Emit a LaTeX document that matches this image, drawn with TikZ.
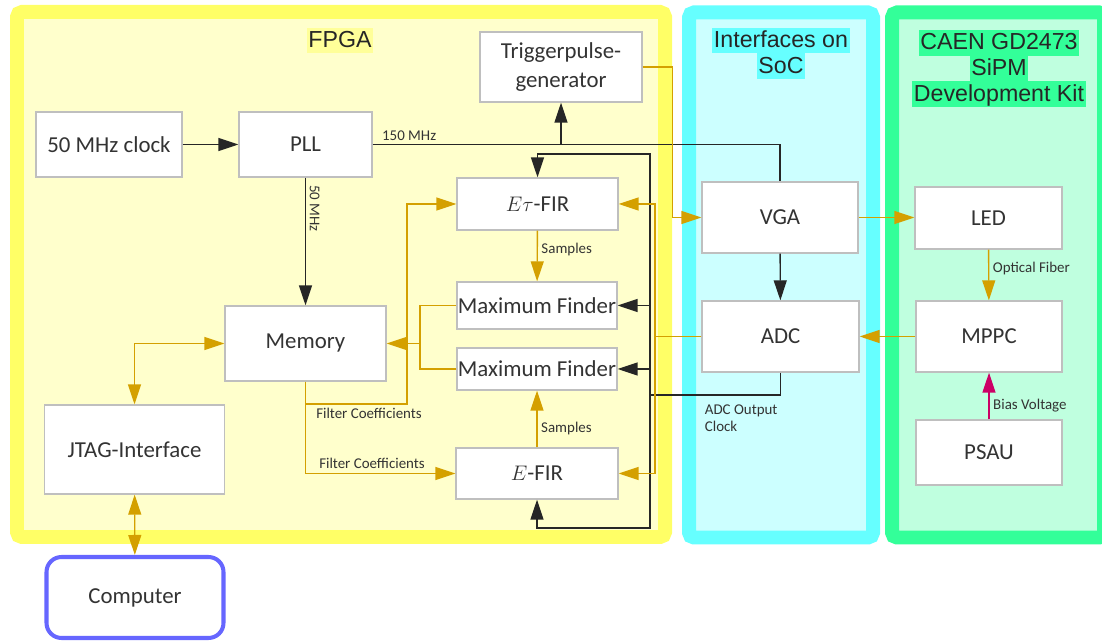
\documentclass[tikz,border=0pt]{standalone}
\usepackage{fontspec}
\setmainfont{Carlito}
\newfontfamily\titlefont{Liberation Sans}
\usepackage{xcolor}
\usetikzlibrary{arrows.meta, positioning, calc}
\definecolor{FPGAYellow}{HTML}{FFFF66}
\definecolor{FPGAFill}{HTML}{FFFFCC}
\definecolor{FPGATitle}{HTML}{FFFF99}
\definecolor{SoCCyan}{HTML}{66FFFF}
\definecolor{SoCFill}{HTML}{CCFFFF}
\definecolor{KitGreen}{HTML}{33FF99}
\definecolor{KitFill}{HTML}{BFFFDF}
\definecolor{BlockGray}{HTML}{BFBFBF}
\definecolor{DataOrange}{HTML}{D4A000}
\definecolor{BiasPink}{HTML}{CC0066}
\definecolor{PCBlue}{HTML}{6666FF}
% highlighted title line
\newcommand{\hlbox}[2]{{\setlength{\fboxsep}{0pt}\colorbox{#1}{\rule[-3.4pt]{0pt}{14.7pt}\hspace{1pt}#2\hspace{1pt}}}}
\tikzset{
    % Region frames - thick coloured borders
    region/.style={
        draw=#1,
        line width=0.28cm,
        rounded corners=0.1cm
    },
    regiontitle/.style={
        font=\titlefont\fontsize{13.2}{14.7}\selectfont,
        inner sep=0pt,
        align=center,
        text=black!85
    },
    % Box styles
    block/.style={
        rectangle,
        draw=BlockGray,
        fill=white,
        line width=0.8pt,
        minimum width=3.2cm,
        minimum height=1.42cm,
        inner sep=0pt,
        align=center,
        text=black!80,
        font=\fontsize{13}{16}\selectfont
    },
    pcbox/.style={
        rectangle,
        rounded corners=0.3cm,
        draw=PCBlue,
        fill=white,
        line width=2.3pt,
        minimum width=3.54cm,
        minimum height=1.62cm,
        align=center,
        text=black!80,
        font=\fontsize{13}{16}\selectfont
    },
    siglabel/.style={
        font=\fontsize{8.5}{9.8}\selectfont,
        text=black!80,
        inner sep=2pt
    },
    % Connector styles
    clkline/.style={
        line width=0.8pt,
        draw=black!85
    },
    clkarrow/.style={
        clkline,
        -{Triangle[length=0.4cm, width=0.26cm]}
    },
    datline/.style={
        line width=0.8pt,
        draw=DataOrange
    },
    datarrow/.style={
        datline,
        -{Triangle[length=0.4cm, width=0.26cm]}
    },
    datboth/.style={
        datline,
        {Triangle[length=0.4cm, width=0.26cm]}-{Triangle[length=0.4cm, width=0.26cm]}
    },
    biasarrow/.style={
        line width=0.8pt,
        draw=BiasPink,
        -{Triangle[length=0.4cm, width=0.26cm]}
    }
}

\begin{document}
\begin{tikzpicture}[x=0.02cm, y=-0.02cm]
    \useasboundingbox (0,0) rectangle (1102,641);

    % regions
    \draw[region=FPGAYellow, fill=FPGAFill] (17,12) rectangle (665,537);
    \draw[region=SoCCyan, fill=SoCFill] (689,12.5) rectangle (873,537.5);
    \draw[region=KitGreen, fill=KitFill] (892,12.5) rectangle (1104,537.5);

    \node[regiontitle] (fpgatitle) at (340,40.5) {\hlbox{FPGATitle}{FPGA}};
    \node[regiontitle] (soctitle) at (781,53.5) {\hlbox{SoCCyan}{Interfaces on}\\\hlbox{SoCCyan}{SoC}};
    \node[regiontitle] (kittitle) at (999,68.5) {\hlbox{KitGreen}{CAEN GD2473}\\\hlbox{KitGreen}{SiPM}\\\hlbox{KitGreen}{Development Kit}};

    % FPGA blocks
    \node[block, minimum width=2.92cm, minimum height=1.30cm] (clk) at (109,144.5) {50 MHz clock};
    \node[block, minimum width=2.66cm, minimum height=1.30cm] (pll) at (305.5,144.5) {PLL};
    \node[block, minimum width=3.24cm, minimum height=1.40cm] (trig) at (561,67) {Triggerpulse-\\generator};
    \node[block, minimum width=3.22cm, minimum height=1.04cm] (etfir) at (537.5,204) {$E\tau$-FIR};
    \node[block, minimum height=0.94cm] (mf1) at (537,305.5) {Maximum Finder};
    \node[block, minimum height=0.84cm] (mf2) at (537,369) {Maximum Finder};
    \node[block, minimum width=3.24cm, minimum height=1.02cm] (efir) at (537,473.5) {$E$-FIR};
    \node[block, minimum width=3.22cm, minimum height=1.50cm] (mem) at (305.5,343.5) {Memory};
    \node[block, minimum width=3.60cm, minimum height=1.78cm] (jtag) at (134.5,449.5) {JTAG-Interface};
    \node[pcbox] (comp) at (135,597.5) {Computer};

    % SoC and kit blocks
    \node[block, minimum width=3.12cm] (vga) at (780,217.5) {VGA};
    \node[block, minimum width=3.14cm] (adc) at (780.5,336.5) {ADC};
    \node[block, minimum width=2.94cm, minimum height=1.24cm] (led) at (988.5,218) {LED};
    \node[block, minimum width=2.92cm] (mppc) at (989,336.5) {MPPC};
    \node[block, minimum width=2.92cm, minimum height=1.30cm] (psau) at (989,452.5) {PSAU};

    % clock paths
    \draw[clkarrow] (clk) -- (pll);
    \draw[clkarrow] (pll) -- node[siglabel, pos=0.24, rotate=-90, anchor=south] (mhz50) {50 MHz} (mem);
    \coordinate (tap150) at (trig.south |- pll.east);
    \draw[clkline] (pll.east) -| (vga.north);
    \node[siglabel, anchor=south west, inner sep=1pt] (mhz150) at (380,143) {150 MHz};
    \draw[clkarrow] (tap150) -- (trig.south);
    \draw[clkarrow] (vga) -- (adc);

    % ADC output clock bus
    \coordinate (clkbus) at (650,395);
    \coordinate (bustop) at (650,154);
    \coordinate (busbot) at (650,528);
    \draw[clkline] (adc.south) |- (clkbus);
    \draw[clkarrow] (clkbus) -- (bustop) -| (etfir.north);
    \draw[clkarrow] (clkbus) -- (busbot) -| (efir.south);
    \draw[clkarrow] (clkbus |- mf1) -- (mf1.east);
    \draw[clkarrow] (clkbus |- mf2) -- (mf2.east);
    \node[siglabel, anchor=north west, align=left] (adcclk) at (701,401) {ADC Output\\Clock};

    % data paths
    \draw[datarrow] (trig.east) -- ++(30,0) |- (vga.west);
    \draw[datarrow] (vga.east) -- (vga.east -| led.west);
    \draw[datarrow] (led) -- node[siglabel, pos=0.37, anchor=west] (fiber) {Optical Fiber} (mppc);
    \draw[biasarrow] (psau) -- node[siglabel, pos=0.3, anchor=west] (bias) {Bias Voltage} (mppc);
    \draw[datarrow] (mppc.west) -- (mppc.west -| adc.east);

    \coordinate (adcsplit) at (655,336.5);
    \draw[datline] (adc.west) -- (adcsplit);
    \draw[datarrow] (adcsplit) |- (etfir.east);
    \draw[datarrow] (adcsplit) |- (efir.east);

    \draw[datarrow] (etfir) -- node[siglabel, pos=0.37, anchor=west] (samp1) {Samples} (mf1);
    \draw[datarrow] (efir) -- node[siglabel, pos=0.33, anchor=west] (samp2) {Samples} (mf2);

    \coordinate (mfjoin) at (420,343.5);
    \draw[datline] (mf1.west) -| (mfjoin);
    \draw[datline] (mf2.west) -| (mfjoin);
    \draw[datarrow] (mfjoin) -- (mem.east);

    % filter coefficients
    \coordinate (coefup) at (407,404);
    \draw[datarrow] (mem.south) |- (coefup) |- (etfir.west);
    \draw[datarrow] (mem.south) |- (efir.west);
    \node[siglabel] (coef1) at (369,413) {Filter Coefficients};
    \node[siglabel] (coef2) at (372,463) {Filter Coefficients};

    % host link
    \draw[datboth] (jtag.north) |- (mem.west);
    \draw[datboth] (jtag) -- (comp);
\end{tikzpicture}
\end{document}
